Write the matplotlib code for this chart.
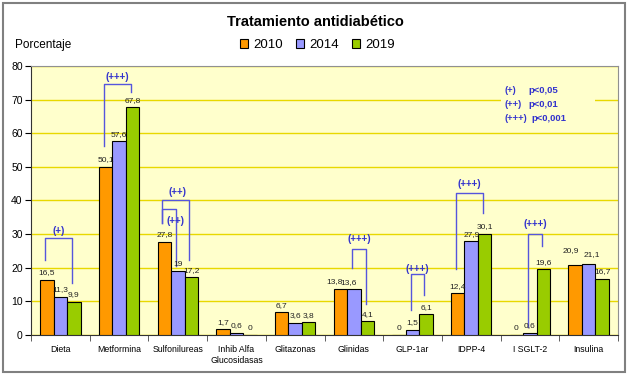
import matplotlib
matplotlib.use("Agg")
import matplotlib.pyplot as plt
from matplotlib.patches import Rectangle
import numpy as np

categories = ["Dieta", "Metformina", "Sulfonilureas", "Inhib Alfa\nGlucosidasas", "Glitazonas",
              "Glinidas", "GLP-1ar", "IDPP-4", "I SGLT-2", "Insulina"]
years = ["2010", "2014", "2019"]
v2010 = [16.5, 50.1, 27.8, 1.7, 6.7, 13.8, 0, 12.4, 0, 20.9]
v2014 = [11.3, 57.6, 19, 0.6, 3.6, 13.6, 1.5, 27.9, 0.6, 21.1]
v2019 = [9.9, 67.8, 17.2, 0, 3.8, 4.1, 6.1, 30.1, 19.6, 16.7]

# significance brackets: category, first bar, second bar, top, bottom left, bottom right, label, label y, label dx
brackets = [
    (0, 0, 2, 28.9, 22.3, 15.5, "(+)", 31.0, 0.0),
    (1, 0, 2, 74.6, 56.2, 72.4, "(+++)", 76.8, 0.0),
    (2, 0, 2, 40.1, 33.4, 22.3, "(++)", 42.5, 0.03),
    (2, 0, 1, 37.4, 33.4, 20.5, "(++)", 34.0, 0.1),
    (5, 1, 2, 25.5, 19.8, 9.2, "(+++)", 28.5, 0.0),
    (6, 1, 2, 18.1, 7.4, 11.9, "(+++)", 19.5, 0.0),
    (7, 0, 2, 42.3, 19.6, 36.4, "(+++)", 44.9, 0.0),
    (8, 1, 2, 30.0, 2.5, 26.5, "(+++)", 33.0, 0.0),
]
sig_labels = ["(+)", "(++)", "(+++)"]
sig_pvals = ["p<0,05", "p<0,01", "p<0,001"]

colors = ["#FF9900", "#9999FF", "#99CC00"]
blue = "#3333CC"
bg = "#FFFFCC"

# nudges (points) for value labels that would collide, keyed by (series, category)
nudge = {(0, 5): (-4.5, 0), (1, 5): (-3.5, 0), (0, 9): (-3.5, 5), (1, 9): (2, 2)}

fig = plt.figure(figsize=(6.29, 3.75), dpi=100)
ax = fig.add_axes([0.0493, 0.1067, 0.9332, 0.7173])
ax.set_facecolor(bg)

x = np.arange(len(categories))
w = 0.23
series = [v2010, v2014, v2019]
for k, vals in enumerate(series):
    xs = x + (k - 1) * w
    ax.bar(xs, vals, w, color=colors[k], edgecolor="black", linewidth=0.8, label=years[k], zorder=3)
    for i, (xi, v) in enumerate(zip(xs, vals)):
        dx, dy = nudge.get((k, i), (0, 0))
        ax.annotate(f"{v:g}".replace(".", ","), (xi, v), xytext=(dx, 2.5 + dy), textcoords="offset points",
                    ha="center", va="bottom", fontsize=6, family="Liberation Sans", color="#222222",
                    zorder=5)

for cat, a, b, top, ya, yb, lab, ty, dx in brackets:
    xa = cat + (a - 1) * w - 0.03
    xb = cat + (b - 1) * w - 0.03
    ax.plot([xa, xa, xb, xb], [ya, top, top, yb], color="#5555DD", lw=1.0, zorder=4)
    ax.text((xa + xb) / 2 + dx, ty, lab, ha="center", va="center", fontsize=7,
            fontweight="bold", color=blue, family="Liberation Sans", zorder=5)

# legend box for p-values
ax.add_patch(Rectangle((7.50, 62.5), 1.6, 12, facecolor=bg, edgecolor="none", zorder=2))
for i, (s, p) in enumerate(zip(sig_labels, sig_pvals)):
    yy = 72.6 - i * 4.1
    ax.text(7.57, yy, s, ha="left", va="center", fontsize=6.8, fontweight="bold",
            color=blue, family="Liberation Sans", zorder=5)
    ax.text(7.97 if i < 2 else 8.03, yy, p, ha="left", va="center", fontsize=6.8,
            fontweight="bold", color=blue, family="Liberation Sans", zorder=5)

ax.set_xlim(-0.5, 9.5)
ax.set_ylim(0, 80)
ax.set_yticks(range(0, 81, 10))
ax.yaxis.grid(True, color="#E8D800", lw=1.0, zorder=1)
ax.set_axisbelow(True)
ax.set_xticks(x)
ax.set_xticklabels(categories, fontsize=6.3, family="Liberation Sans", linespacing=1.3)
ax.set_xticks(np.arange(-0.5, 10, 1), minor=True)
ax.tick_params(axis="x", which="major", length=0, pad=7)
ax.tick_params(axis="x", which="minor", length=4, direction="out", color="#444444")
ax.tick_params(axis="y", length=4, direction="out", labelsize=7.5, pad=2)
for lab in ax.get_yticklabels():
    lab.set_family("Liberation Sans")
ax.spines["top"].set_color("#909090")
ax.spines["right"].set_color("#909090")
ax.spines["left"].set_color("#333333")
ax.spines["bottom"].set_color("#333333")

fig.text(0.502, 0.941, "Tratamiento antidiabético", ha="center", va="center",
         fontsize=10.5, fontweight="bold", family="Liberation Sans")
fig.text(15 / 629, 1 - 45 / 375, "Porcentaje", ha="left", va="center", fontsize=8.5,
         family="Liberation Sans")
fig.legend(loc="center", bbox_to_anchor=(0.505, 0.88), ncol=3, frameon=False,
           prop={"family": "Liberation Sans", "size": 9.5}, handlelength=0.6, handleheight=0.6,
           handletextpad=0.4, columnspacing=1.0)

fig.patches.append(Rectangle((3 / 629, 3 / 375), 622 / 629, 369 / 375, transform=fig.transFigure,
                             fill=False, edgecolor="#808080", lw=1.5))

fig.savefig("out.png", dpi=100)
